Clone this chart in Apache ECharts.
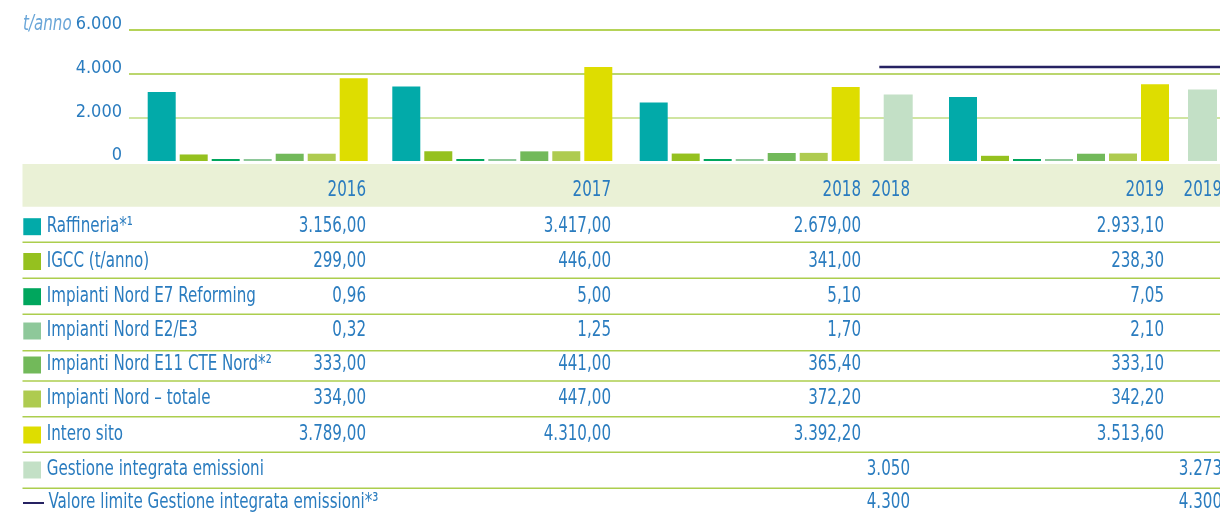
<!DOCTYPE html>
<html>
<head>
<meta charset="utf-8">
<script src="https://cdn.jsdelivr.net/npm/echarts@6/dist/echarts.min.js"></script>
<style>
  html, body { margin: 0; padding: 0; background: #fff; }
  #main { width: 1220px; height: 515px; }
</style>
</head>
<body>
<div id="main"></div>
<script>
// dati (t/anno)
const years = ['2016', '2017', '2018', '2019']
const raffineria = [3156.00, 3417.00, 2679.00, 2933.10]
const igcc = [299.00, 446.00, 341.00, 238.30]
const nordE7 = [0.96, 5.00, 5.10, 7.05]
const nordE2E3 = [0.32, 1.25, 1.70, 2.10]
const nordE11 = [333.00, 441.00, 365.40, 333.10]
const nordTotale = [334.00, 447.00, 372.20, 342.20]
const interoSito = [3789.00, 4310.00, 3392.20, 3513.60]
const gestioneYears = ['2018', '2019']
const gestione = [3050, 3273]
const limite = [4300, 4300]

const seriesNames = [
  'Raffineria*¹',
  'IGCC (t/anno)',
  'Impianti Nord E7 Reforming',
  'Impianti Nord E2/E3',
  'Impianti Nord E11 CTE Nord*²',
  'Impianti Nord – totale',
  'Intero sito'
]
const seriesData = [raffineria, igcc, nordE7, nordE2E3, nordE11, nordTotale, interoSito]
const colors = ['#02aaa9', '#95c11f', '#00a65d', '#8ec89a', '#72b95a', '#aecb50', '#dedd00']
const gestioneName = 'Gestione integrata emissioni'
const gestioneColor = '#c3e0c6'
const limiteName = 'Valore limite Gestione integrata emissioni*³'
const limiteColor = '#262262'

const blue = '#2a7cbf'
const FONT = '"DejaVu Sans Condensed", "Liberation Sans Narrow", sans-serif'

// formato italiano: 3.156,00
function fmtIt (v, dec) {
  const parts = v.toFixed(dec).split('.')
  const int = parts[0].replace(/\B(?=(\d{3})+(?!\d))/g, '.')
  return parts[1] ? int + ',' + parts[1] : int
}

const TOP = 30
const H = 131
const groupLefts = [145.7, 390.3, 637.7, 947]

const grids = [{ left: 129, right: 0, top: TOP, height: H }]
const xAxes = [{ type: 'category', gridIndex: 0, data: [''], show: false }]
const yAxes = [{
  type: 'value',
  gridIndex: 0,
  min: 0,
  max: 6000,
  interval: 2000,
  axisLine: { show: false },
  axisTick: { show: false },
  axisLabel: {
    color: blue,
    fontSize: 18,
    fontFamily: FONT,
    margin: 7,
    verticalAlign: 'bottom',
    lineHeight: 11,
    formatter: v => fmtIt(v, 0)
  },
  splitLine: {
    lineStyle: { color: ['rgba(0,0,0,0)', '#c0dc82', '#a5c93c', '#9cc421'], width: 1.5 }
  }
}]
const series = [{ type: 'bar', xAxisIndex: 0, yAxisIndex: 0, data: [] }]

// un gruppo di barre per anno
years.forEach((y, i) => {
  grids.push({ left: groupLefts[i], width: 224, top: TOP, height: H })
  xAxes.push({ type: 'category', gridIndex: i + 1, data: seriesNames, show: false })
  yAxes.push({ type: 'value', gridIndex: i + 1, min: 0, max: 6000, show: false, splitLine: { show: false } })
  series.push({
    type: 'bar',
    name: y,
    xAxisIndex: i + 1,
    yAxisIndex: i + 1,
    barWidth: 28,
    barMinHeight: 2,
    silent: true,
    data: seriesData.map((d, k) => ({ value: d[i], itemStyle: { color: colors[k] } }))
  })
})

// gestione integrata emissioni
grids.push({ left: 898.2, width: 304.3, top: TOP, height: H })
xAxes.push({ type: 'category', gridIndex: 5, data: gestioneYears, boundaryGap: false, show: false })
yAxes.push({ type: 'value', gridIndex: 5, min: 0, max: 6000, show: false, splitLine: { show: false } })
series.push({
  type: 'bar',
  name: gestioneName,
  xAxisIndex: 5,
  yAxisIndex: 5,
  barWidth: 29,
  itemStyle: { color: gestioneColor },
  data: gestione
})

// valore limite
grids.push({ left: 879.3, right: 0, top: TOP, height: H })
xAxes.push({ type: 'category', gridIndex: 6, data: gestioneYears, boundaryGap: false, show: false })
yAxes.push({ type: 'value', gridIndex: 6, min: 0, max: 6000, show: false, splitLine: { show: false } })
series.push({
  type: 'line',
  name: limiteName,
  xAxisIndex: 6,
  yAxisIndex: 6,
  symbol: 'none',
  lineStyle: { color: limiteColor, width: 2.5 },
  data: limite
})

// tabella sotto il grafico
const colRight = [366, 611, 861, 1164]
const colRightG = [910, 1222]
const rowY = [226.7, 261.5, 296.7, 331, 365, 399, 435, 470, 503]
const sepY = [242.3, 278.3, 314.3, 350.7, 381, 416.7, 452.3, 488.3]

// testo condensato (il font originale e' stretto)
function txt (text, x, y, align, extra) {
  return {
    type: 'text',
    x: x,
    y: y,
    scaleX: 0.8,
    silent: true,
    style: Object.assign({
      text: text,
      fill: blue,
      font: '21px ' + FONT,
      textAlign: align,
      align: align,
      textVerticalAlign: 'middle',
      verticalAlign: 'middle'
    }, extra || {})
  }
}

const graphics = []
graphics.push(txt('t/anno', 23, 25, 'left', { fill: '#6aa6d8', font: 'italic 21px ' + FONT }))
graphics.push({ type: 'rect', silent: true, shape: { x: 22.5, y: 164, width: 1200, height: 42.7 }, style: { fill: '#eaf1d6' } })
years.forEach((y, i) => graphics.push(txt(y, colRight[i], 191, 'right')))
gestioneYears.forEach((y, i) => graphics.push(txt(y, colRightG[i], 191, 'right')))

sepY.forEach(y => {
  graphics.push({ type: 'line', silent: true, shape: { x1: 22.5, y1: y, x2: 1220, y2: y }, style: { stroke: '#acce4e', lineWidth: 1.5 } })
})

seriesNames.forEach((name, k) => {
  const y = rowY[k]
  graphics.push({ type: 'rect', silent: true, shape: { x: 23.3, y: y - 8.5, width: 17.7, height: 17 }, style: { fill: colors[k] } })
  graphics.push(txt(name, 46.7, y, 'left'))
  seriesData[k].forEach((v, i) => graphics.push(txt(fmtIt(v, 2), colRight[i], y, 'right')))
})

graphics.push({ type: 'rect', silent: true, shape: { x: 23.3, y: rowY[7] - 8.5, width: 17.7, height: 17 }, style: { fill: gestioneColor } })
graphics.push(txt(gestioneName, 46.7, rowY[7], 'left'))
gestione.forEach((v, i) => graphics.push(txt(fmtIt(v, 0), colRightG[i], rowY[7], 'right')))

graphics.push({ type: 'line', silent: true, shape: { x1: 23, y1: rowY[8], x2: 44, y2: rowY[8] }, style: { stroke: limiteColor, lineWidth: 2 } })
graphics.push(txt(limiteName, 48.5, rowY[8], 'left'))
limite.forEach((v, i) => graphics.push(txt(fmtIt(v, 0), colRightG[i], rowY[8], 'right')))

const myChart = echarts.init(document.getElementById('main'))
myChart.setOption({
  animation: false,
  grid: grids,
  xAxis: xAxes,
  yAxis: yAxes,
  series: series,
  graphic: graphics
})
</script>
</body>
</html>
